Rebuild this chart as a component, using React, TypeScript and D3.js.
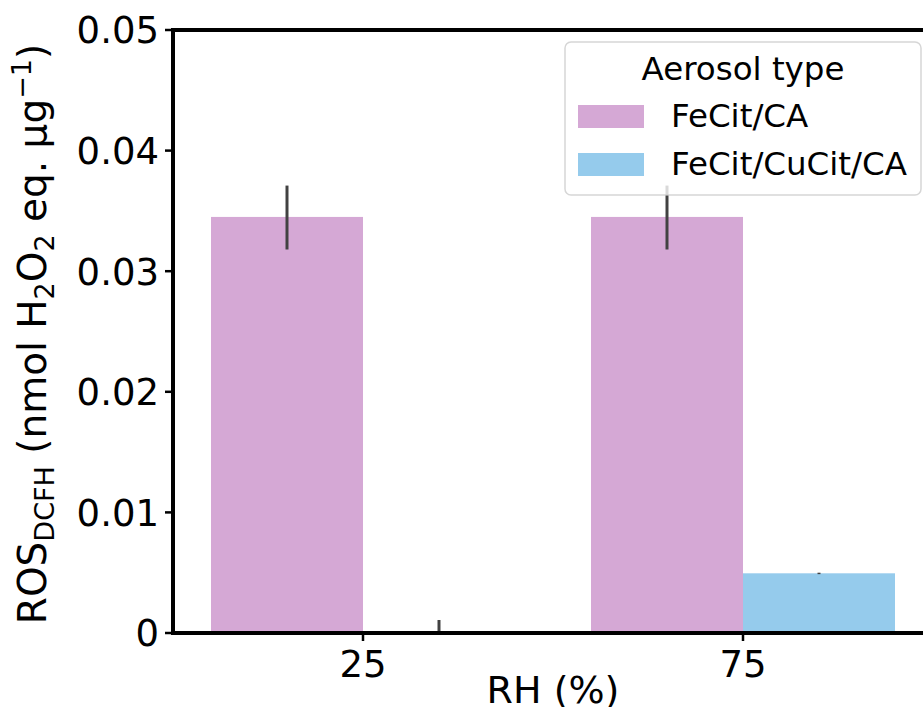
import { useRef, useEffect } from 'react';
import * as d3 from 'd3';

const rhLevels = ['25', '75'];
const aerosolTypes = ['FeCit/CA', 'FeCit/CuCit/CA'];
const aerosolColors = ['#d5a8d5', '#95cbec'];

// mean and CI bounds per RH level
const meanFeCitCA = [0.0345, 0.0345];
const lowFeCitCA = [0.0318, 0.0318];
const highFeCitCA = [0.0371, 0.0371];
const meanFeCitCuCitCA = [0, 0.00495];
const lowFeCitCuCitCA = [-0.001, 0.00488];
const highFeCitCuCitCA = [0.00108, 0.005];

const yTicks = [0, 0.01, 0.02, 0.03, 0.04, 0.05];
const yTickLabels = ['0', '0.01', '0.02', '0.03', '0.04', '0.05'];

const W = 923;
const H = 707;
const FONT = 'DejaVu Sans, sans-serif';

export default function App() {
    const svgRef = useRef<SVGSVGElement>(null);

    useEffect(() => {
        if (!svgRef.current) return;
        const margin = { top: 30, left: 173, right: -10, bottom: 74 };
        const x0 = margin.left;
        const x1 = W - margin.right;
        const yTop = margin.top;

        const svg = d3.select(svgRef.current);
        svg.selectAll('*').remove();

        const x = d3.scaleBand<string>()
            .domain(rhLevels)
            .range([x0, x1])
            .paddingInner(0.2)
            .paddingOuter(0.1);
        const xSub = d3.scaleBand<string>()
            .domain(aerosolTypes)
            .range([0, x.bandwidth()]);
        const y = d3.scaleLinear().domain([0, 0.05]).range([633, yTop]);

        const series = [
            { mean: meanFeCitCA, lo: lowFeCitCA, hi: highFeCitCA },
            { mean: meanFeCitCuCitCA, lo: lowFeCitCuCitCA, hi: highFeCitCuCitCA },
        ];

        svg.append('defs').append('clipPath').attr('id', 'plot-clip')
            .append('rect')
            .attr('x', x0).attr('y', yTop)
            .attr('width', x1 - x0).attr('height', y(0) - yTop);

        const plot = svg.append('g').attr('clip-path', 'url(#plot-clip)');

        // Bars
        series.forEach((s, si) => {
            rhLevels.forEach((rh, i) => {
                const bx = (x(rh) ?? 0) + (xSub(aerosolTypes[si]) ?? 0);
                plot.append('rect')
                    .attr('x', bx)
                    .attr('y', y(Math.max(0, s.mean[i])))
                    .attr('width', xSub.bandwidth())
                    .attr('height', y(0) - y(Math.max(0, s.mean[i])))
                    .attr('fill', aerosolColors[si]);
            });
        });

        // Error bars
        series.forEach((s, si) => {
            rhLevels.forEach((rh, i) => {
                const cx = (x(rh) ?? 0) + (xSub(aerosolTypes[si]) ?? 0) + xSub.bandwidth() / 2;
                plot.append('line')
                    .attr('x1', cx).attr('x2', cx)
                    .attr('y1', y(s.lo[i])).attr('y2', y(s.hi[i]))
                    .attr('stroke', '#424242')
                    .attr('stroke-width', 3);
            });
        });

        // Spines
        const spine = { stroke: '#000', width: 4 };
        svg.append('line')
            .attr('x1', x0).attr('x2', x1).attr('y1', yTop).attr('y2', yTop)
            .attr('stroke', spine.stroke).attr('stroke-width', spine.width);
        svg.append('line')
            .attr('x1', x0).attr('x2', x1).attr('y1', y(0)).attr('y2', y(0))
            .attr('stroke', spine.stroke).attr('stroke-width', spine.width);
        svg.append('line')
            .attr('x1', x0).attr('x2', x0).attr('y1', yTop - 2).attr('y2', y(0) + 2)
            .attr('stroke', spine.stroke).attr('stroke-width', spine.width);

        // Y axis ticks
        const yAxis = svg.append('g');
        yTicks.forEach((t, i) => {
            yAxis.append('line')
                .attr('x1', x0 - 8).attr('x2', x0)
                .attr('y1', y(t)).attr('y2', y(t))
                .attr('stroke', '#000').attr('stroke-width', 2.5);
            yAxis.append('text')
                .attr('x', x0 - 14)
                .attr('y', y(t))
                .attr('dy', '0.36em')
                .attr('text-anchor', 'end')
                .attr('font-family', FONT)
                .attr('font-size', 37)
                .text(yTickLabels[i]);
        });

        // X axis ticks
        rhLevels.forEach(rh => {
            const cx = (x(rh) ?? 0) + x.bandwidth() / 2;
            svg.append('line')
                .attr('x1', cx).attr('x2', cx)
                .attr('y1', y(0)).attr('y2', y(0) + 8)
                .attr('stroke', '#000').attr('stroke-width', 2.5);
            svg.append('text')
                .attr('x', cx)
                .attr('y', 677)
                .attr('text-anchor', 'middle')
                .attr('font-family', FONT)
                .attr('font-size', 37)
                .text(rh);
        });

        // Axis labels
        svg.append('text')
            .attr('x', (x0 + x1) / 2)
            .attr('y', 703)
            .attr('text-anchor', 'middle')
            .attr('font-family', FONT)
            .attr('font-size', 38)
            .text('RH (%)');

        const yl = svg.append('text')
            .attr('transform', `translate(46,334) rotate(-90)`)
            .attr('text-anchor', 'middle')
            .attr('font-family', FONT)
            .attr('font-size', 39);
        const part = (t: string, dy: number, small = false) => {
            const ts = yl.append('tspan').attr('dy', dy).text(t);
            if (small) ts.attr('font-size', 27);
        };
        part('ROS', 0);
        part('DCFH', 8, true);
        part(' (nmol H', -8);
        part('2', 8, true);
        part('O', -8);
        part('2', 8, true);
        part(' eq. \u03bcg', -8);
        part('\u22121', -15, true);
        part(')', 15);

        // Legend
        const lg = svg.append('g');
        lg.append('rect')
            .attr('x', 565).attr('y', 42)
            .attr('width', 356).attr('height', 153)
            .attr('rx', 6)
            .attr('fill', 'rgba(255,255,255,0.8)')
            .attr('stroke', 'rgba(204,204,204,0.8)')
            .attr('stroke-width', 1.5);
        lg.append('text')
            .attr('x', 743).attr('y', 80)
            .attr('text-anchor', 'middle')
            .attr('font-family', FONT)
            .attr('font-size', 32.5)
            .text('Aerosol type');
        aerosolTypes.forEach((a, i) => {
            const ly = 105 + i * 48;
            lg.append('rect')
                .attr('x', 578).attr('y', ly)
                .attr('width', 66).attr('height', 23)
                .attr('fill', aerosolColors[i]);
            lg.append('text')
                .attr('x', 671).attr('y', ly + 22)
                .attr('font-family', FONT)
                .attr('font-size', 32.5)
                .text(a);
        });
    }, []);

    return (
        <svg
            ref={svgRef}
            width={W}
            height={H}
            style={{ position: 'absolute', left: 0, top: 0, display: 'block', background: '#fff' }}
        />
    );
}
